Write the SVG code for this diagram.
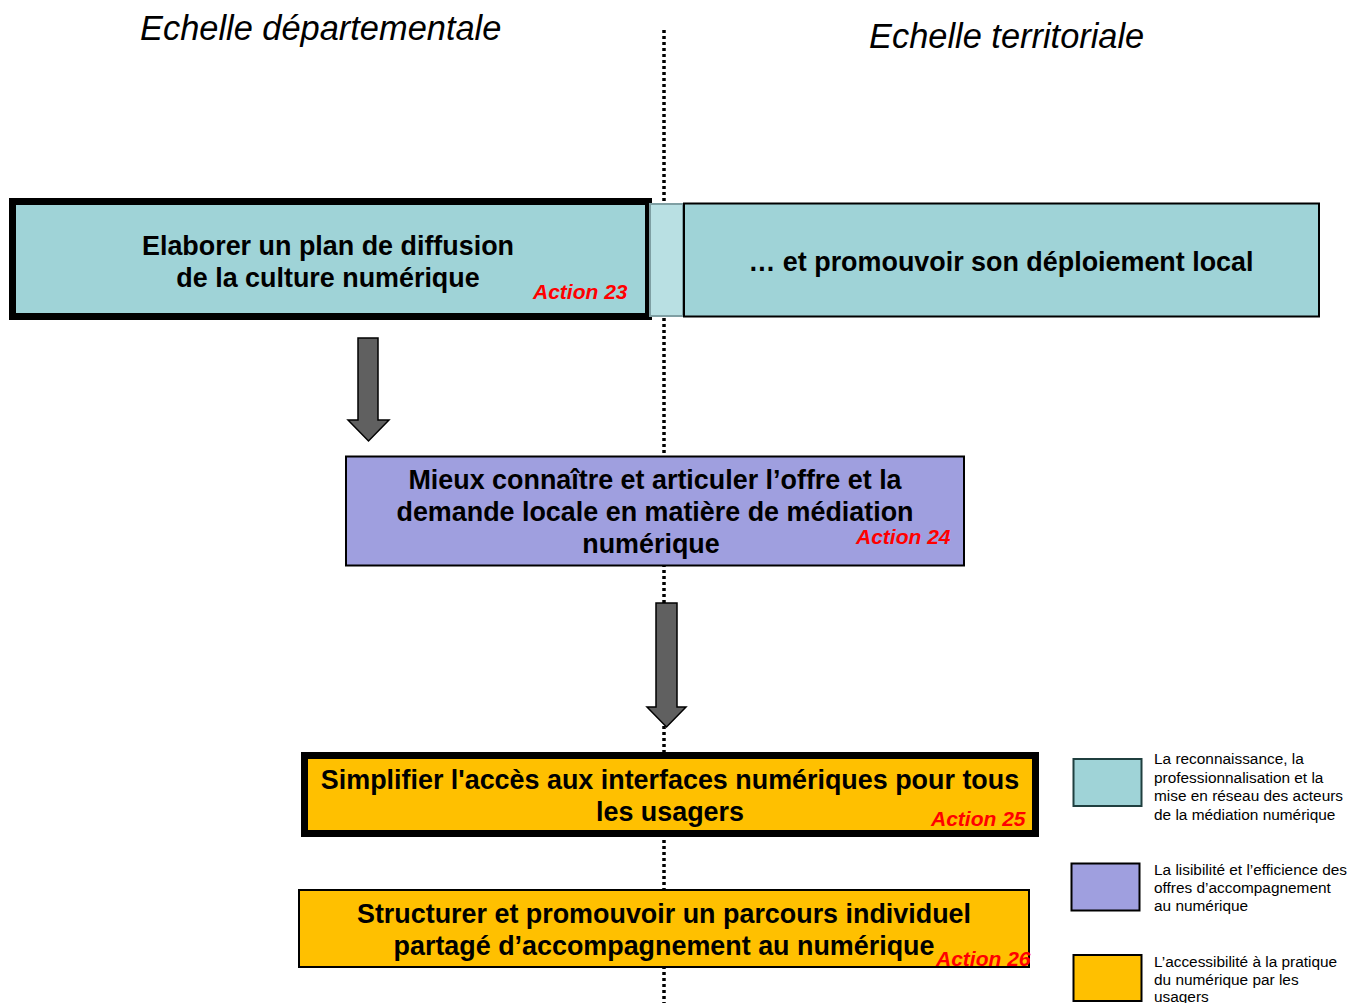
<svg xmlns="http://www.w3.org/2000/svg" width="1351" height="1003" viewBox="0 0 1351 1003">
<style>
.title{font-family:"Liberation Sans",Arial,sans-serif;font-style:italic;font-size:34.4px;fill:#000}
.main{font-family:"Liberation Sans",Arial,sans-serif;font-weight:bold;font-size:26.9px;fill:#000;text-anchor:middle}
.act{font-family:"Liberation Sans",Arial,sans-serif;font-weight:bold;font-style:italic;font-size:21px;fill:#ff0000}
.leg{font-family:"Liberation Sans",Arial,sans-serif;font-size:15.4px;fill:#000}
.arrow{fill:#606060;stroke:#000;stroke-width:1.5}
</style>
<rect width="1351" height="1003" fill="#fff"/>
<line x1="664" y1="30" x2="664" y2="1003" stroke="#000" stroke-width="3.5" stroke-dasharray="3,3"/>
<text class="title" x="140" y="40">Echelle départementale</text>
<text class="title" x="869" y="48">Echelle territoriale</text>
<g id="connectors">
<polygon class="arrow" points="358,338 378,338 378,420 389,420 368.5,441 348,420 358,420"/>
<polygon class="arrow" points="656,603 677,603 677,707 686,707 666.5,727 647,707 656,707"/>
</g>
<g id="node-action23">
<rect x="12.5" y="201.5" width="636" height="115" fill="#9fd3d7" stroke="#000" stroke-width="7"/>
<text class="main" x="328" y="255">Elaborer un plan de diffusion</text>
<text class="main" x="328" y="287">de la culture numérique</text>
<text class="act" x="533" y="299">Action 23</text>
</g>
<g id="node-link">
<rect x="650" y="204" width="33" height="112" fill="#b9e0e3" stroke="#7f9fa3" stroke-width="2"/>
</g>
<g id="node-local">
<rect x="684" y="203.5" width="635" height="113" fill="#9fd3d7" stroke="#000" stroke-width="2"/>
<text class="main" x="1001" y="271">… et promouvoir son déploiement local</text>
</g>
<g id="node-action24">
<rect x="346" y="456.5" width="618" height="109" fill="#9f9fdf" stroke="#000" stroke-width="2"/>
<text class="main" x="655" y="489">Mieux connaître et articuler l’offre et la</text>
<text class="main" x="655" y="521">demande locale en matière de médiation</text>
<text class="main" x="651" y="553">numérique</text>
<text class="act" x="856" y="544">Action 24</text>
</g>
<g id="node-action25">
<rect x="304.5" y="755.5" width="731" height="78" fill="#ffc000" stroke="#000" stroke-width="7"/>
<text class="main" x="670" y="789">Simplifier l'accès aux interfaces numériques pour tous</text>
<text class="main" x="670" y="821">les usagers</text>
<text class="act" x="931" y="826">Action 25</text>
</g>
<g id="node-action26">
<rect x="299" y="890" width="730" height="77" fill="#ffc000" stroke="#000" stroke-width="2"/>
<text class="main" x="664" y="923">Structurer et promouvoir un parcours individuel</text>
<text class="main" x="664" y="955">partagé d’accompagnement au numérique</text>
<text class="act" x="936" y="966">Action 26</text>
</g>
<g id="legend">
<rect x="1073.5" y="759" width="68" height="47" fill="#9fd3d7" stroke="#1f3f3f" stroke-width="2"/>
<text class="leg" x="1154" y="764">La reconnaissance, la</text>
<text class="leg" x="1154" y="783">professionnalisation et la</text>
<text class="leg" x="1154" y="801">mise en réseau des acteurs</text>
<text class="leg" x="1154" y="820">de la médiation numérique</text>
<rect x="1071.5" y="863.5" width="68" height="47" fill="#9f9fdf" stroke="#000" stroke-width="2"/>
<text class="leg" x="1154" y="875">La lisibilité et l’efficience des</text>
<text class="leg" x="1154" y="893">offres d’accompagnement</text>
<text class="leg" x="1154" y="911">au numérique</text>
<rect x="1073.5" y="955" width="68" height="46" fill="#ffc000" stroke="#000" stroke-width="2"/>
<text class="leg" x="1154" y="967">L’accessibilité à la pratique</text>
<text class="leg" x="1154" y="985">du numérique par les</text>
<text class="leg" x="1154" y="1002">usagers</text>
</g>
</svg>
